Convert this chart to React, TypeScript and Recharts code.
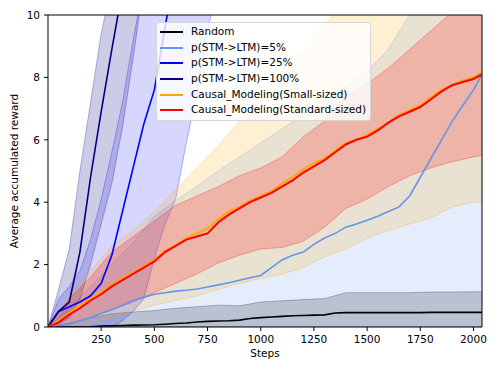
import {
  ComposedChart,
  Line,
  Area,
  XAxis,
  YAxis,
  ReferenceLine,
} from "recharts";

// x grids
const STEPS_50 = [...Array.from({ length: 41 }, (_, i) => i * 50), 2040];
const STEPS_100 = [...Array.from({ length: 21 }, (_, i) => i * 100), 2040];

const xTicks = [250, 500, 750, 1000, 1250, 1500, 1750, 2000];
const yTicks = [0, 2, 4, 6, 8, 10];

// means (every 50 steps)
const randomMean = [
  0, 0, 0, 0, 0.01, 0.03, 0.04, 0.05, 0.06, 0.065, 0.07, 0.09, 0.11, 0.13, 0.16,
  0.18, 0.19, 0.2, 0.22, 0.27, 0.3, 0.32, 0.34, 0.36, 0.37, 0.38, 0.39, 0.45,
  0.46, 0.46, 0.46, 0.46, 0.46, 0.46, 0.46, 0.46, 0.47, 0.47, 0.47, 0.47, 0.47,
  0.47,
];
const p5Mean = [
  0, 0.05, 0.1, 0.2, 0.3, 0.44, 0.55, 0.7, 0.85, 0.95, 1.05, 1.1, 1.15, 1.18,
  1.22, 1.28, 1.35, 1.42, 1.5, 1.58, 1.65, 1.9, 2.15, 2.3, 2.4, 2.65, 2.85, 3.0,
  3.2, 3.3, 3.42, 3.55, 3.7, 3.85, 4.2, 4.8, 5.4, 6.0, 6.6, 7.1, 7.6, 8.1,
];
const p25Mean = [0, 0.5, 0.65, 0.8, 1.0, 1.4, 2.3, 3.7, 5.1, 6.5, 7.6, 9.6, 11.5];
const p100Mean = [0, 0.5, 0.8, 2.4, 4.8, 6.9, 8.9, 10.8, 12];
const smallMean = [
  0, 0.2, 0.45, 0.7, 0.9, 1.1, 1.35, 1.55, 1.75, 1.95, 2.15, 2.45, 2.6, 2.85,
  3.0, 3.15, 3.45, 3.7, 3.85, 4.05, 4.2, 4.35, 4.6, 4.8, 5.05, 5.25, 5.4, 5.65,
  5.9, 6.0, 6.15, 6.35, 6.55, 6.8, 6.95, 7.1, 7.35, 7.6, 7.75, 7.9, 8.0, 8.15,
];
const standardMean = [
  0, 0.15, 0.4, 0.6, 0.85, 1.05, 1.3, 1.5, 1.7, 1.9, 2.1, 2.4, 2.6, 2.8, 2.9,
  3.0, 3.35, 3.6, 3.8, 4.0, 4.15, 4.3, 4.5, 4.7, 4.95, 5.15, 5.35, 5.6, 5.85,
  6.0, 6.1, 6.3, 6.55, 6.75, 6.9, 7.05, 7.3, 7.55, 7.75, 7.85, 7.95, 8.1,
];

// bands (every 100 steps)
const randomHi = [
  0, 0.12, 0.3, 0.42, 0.48, 0.53, 0.6, 0.65, 0.7, 0.68, 0.8, 0.84, 0.88, 0.91,
  1.1, 1.1, 1.1, 1.1, 1.12, 1.12, 1.13, 1.13,
];
const p5Hi = [
  0, 0.6, 1.3, 2.0, 2.7, 3.55, 4.05, 4.5, 5.0, 5.45, 5.9, 6.35, 6.8, 7.25, 7.7,
  8.2, 8.9, 10.0, 10.8, 11.5, 12, 12,
];
// 25% and 100% bands, every 50 steps
const p25Lo = [0, 0, 0, 0, 0, 0, 0, 0.2, 0.5, 0.9, 2.2, 3.3, 4.1, 5.9, 7.5, 9.5, 11];
const p25Hi = [0, 0.9, 1.3, 1.8, 2.8, 4.1, 5.6, 7.2, 9.2, 11];
const p100Lo = [0, 0.1, 0.3, 0.9, 2.0, 3.3, 4.6, 6.4, 8.6, 11];
const p100Hi = [0, 1.2, 2.5, 5.0, 7.2, 9.4, 11];
const smallLo = [
  0, 0.05, 0.15, 0.3, 0.5, 0.7, 0.85, 1.0, 1.2, 1.4, 1.55, 1.7, 1.9, 2.25, 2.5,
  2.85, 3.1, 3.3, 3.5, 3.85, 4.0, 4.0,
];
const smallHi = [
  0, 1.0, 1.8, 2.6, 3.1, 3.7, 4.4, 5.1, 5.8, 6.6, 7.4, 8.2, 8.9, 9.7, 10.4, 11,
  11.5, 12, 12, 12, 12, 12,
];
const standardLo = [
  0, 0.1, 0.3, 0.55, 0.8, 1.1, 1.4, 1.7, 2.05, 2.3, 2.5, 2.55, 2.75, 3.2, 3.8,
  4.1, 4.5, 4.85, 5.1, 5.3, 5.45, 5.5,
];
const standardHi = [
  0, 0.9, 1.6, 2.4, 2.9, 3.4, 3.9, 4.2, 4.5, 4.85, 5.1, 5.45, 6.1, 6.6, 7.4, 7.8,
  8.3, 8.9, 9.5, 10.1, 10.6, 10.8,
];

const toLine = (xs: number[], ys: number[]) =>
  ys.map((y, i) => ({ x: xs[i], y }));
const toBand = (xs: number[], lo: number[] | number, hi: number[]) =>
  hi.map((h, i) => ({
    x: xs[i],
    band: [typeof lo === "number" ? lo : lo[i], h],
  }));
// upper edge already above the frame after its last listed value
const padBand = (xs: number[], lo: number[], hi: number[]) =>
  lo.map((l, i) => ({ x: xs[i], band: [l, i < hi.length ? hi[i] : 12] }));

const series = [
  {
    name: "Random",
    color: "#000000",
    line: toLine(STEPS_50, randomMean),
    band: toBand(STEPS_100, 0, randomHi),
    alpha: 0.2,
    width: 1.6,
  },
  {
    name: "p(STM->LTM)=5%",
    color: "#6495ED",
    line: toLine(STEPS_50, p5Mean),
    band: toBand(STEPS_100, 0, p5Hi),
    alpha: 0.17,
    width: 1.6,
  },
  {
    name: "p(STM->LTM)=25%",
    color: "#0000FF",
    line: toLine(STEPS_50, p25Mean),
    band: padBand(STEPS_50, p25Lo, p25Hi),
    alpha: 0.16,
    width: 1.6,
  },
  {
    name: "p(STM->LTM)=100%",
    color: "#000080",
    line: toLine(STEPS_50, p100Mean),
    band: padBand(STEPS_50, p100Lo, p100Hi),
    alpha: 0.2,
    width: 1.6,
  },
  {
    name: "Causal_Modeling(Small-sized)",
    color: "#FFA500",
    line: toLine(STEPS_50, smallMean),
    band: toBand(STEPS_100, smallLo, smallHi),
    alpha: 0.17,
    width: 2,
  },
  {
    name: "Causal_Modeling(Standard-sized)",
    color: "#FF0000",
    line: toLine(STEPS_50, standardMean),
    band: toBand(STEPS_100, standardLo, standardHi),
    alpha: 0.2,
    width: 2,
  },
];

const FONT = "'DejaVu Sans', sans-serif";
const FS = 10.5;

const ChartLegend = () => (
  <div
    style={{
      position: "absolute",
      left: 156,
      top: 22,
      background: "rgba(255,255,255,0.8)",
      border: "1px solid #d6d6d6",
      borderRadius: 3,
      padding: "1px 4px 2px 3px",
      fontFamily: FONT,
      fontSize: FS,
      lineHeight: "15.7px",
      color: "#000",
    }}
  >
    {series.map((s) => (
      <div
        key={s.name}
        style={{ display: "flex", alignItems: "center", height: 15.7 }}
      >
        <div
          style={{ width: 23, height: 2, background: s.color, marginRight: 8 }}
        />
        <span>{s.name}</span>
      </div>
    ))}
  </div>
);

export default function App() {
  return (
    <div
      style={{
        position: "absolute",
        left: 0,
        top: 0,
        width: 498,
        height: 373,
        background: "#fff",
      }}
    >
      <ComposedChart
        width={498}
        height={373}
        margin={{ top: 15, right: 16, left: 0, bottom: 12 }}
      >
        <XAxis
          type="number"
          dataKey="x"
          domain={[0, 2040]}
          ticks={xTicks}
          allowDataOverflow
          height={34}
          tickSize={4}
          tickMargin={5}
          stroke="#000"
          tick={{ fill: "#000", fontSize: FS, fontFamily: FONT }}
          label={{
            value: "Steps",
            position: "insideBottom",
            offset: 4,
            fill: "#000",
            fontSize: FS,
            fontFamily: FONT,
          }}
        />
        <YAxis
          type="number"
          domain={[0, 10]}
          ticks={yTicks}
          allowDataOverflow
          width={48}
          tickSize={4}
          tickMargin={4}
          stroke="#000"
          tick={{ fill: "#000", fontSize: FS, fontFamily: FONT }}
          label={{
            content: () => (
              <text
                x={14}
                y={171}
                transform="rotate(-90 14 171)"
                textAnchor="middle"
                dominantBaseline="central"
                fontSize={FS}
                fontFamily={FONT}
                fill="#000"
              >
                Average accumulated reward
              </text>
            ),
          }}
        />
        {series.map((s) => (
          <Area
            key={"band-" + s.name}
            data={s.band}
            dataKey="band"
            type="linear"
            stroke={s.color}
            strokeOpacity={0.28}
            strokeWidth={1}
            fill={s.color}
            fillOpacity={s.alpha}
            dot={false}
            activeDot={false}
            isAnimationActive={false}
          />
        ))}
        {series.map((s) => (
          <Line
            key={"line-" + s.name}
            data={s.line}
            dataKey="y"
            name={s.name}
            type="linear"
            stroke={s.color}
            strokeWidth={s.width}
            dot={false}
            activeDot={false}
            isAnimationActive={false}
          />
        ))}
        <ReferenceLine y={10} stroke="#000" strokeWidth={1} />
        <ReferenceLine x={2040} stroke="#000" strokeWidth={1} />
      </ComposedChart>
      <ChartLegend />
    </div>
  );
}
